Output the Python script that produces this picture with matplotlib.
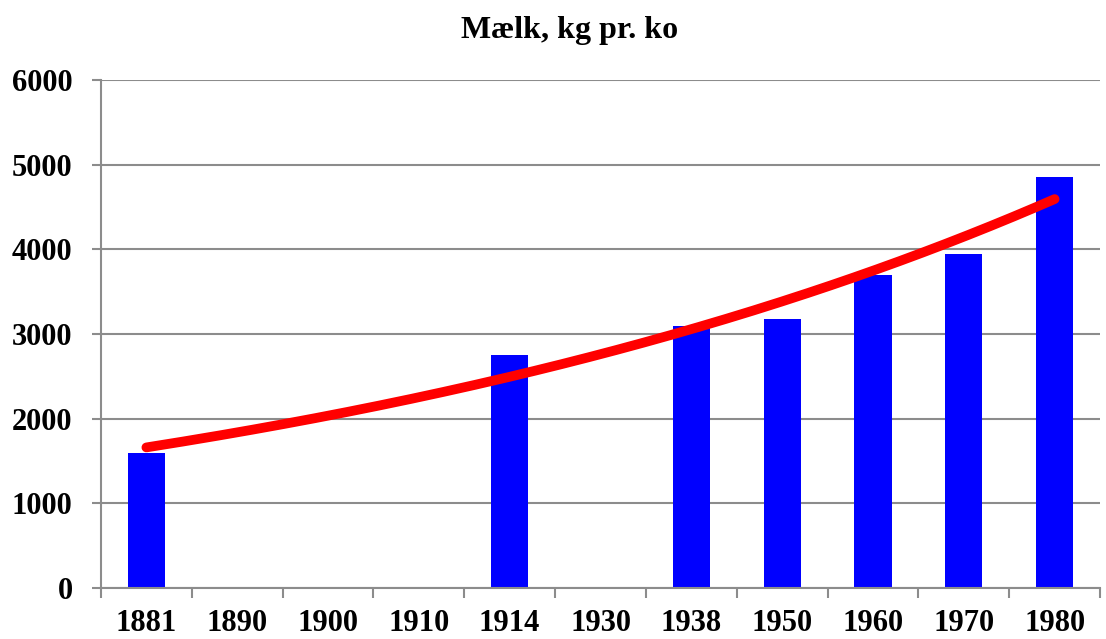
import numpy as np
import matplotlib.pyplot as plt

# Mælk, kg pr. ko -- bars only where data exists, blank categories stay empty
years = ['1881', '1890', '1900', '1910', '1914', '1930', '1938', '1950', '1960', '1970', '1980']
milk = [1600, None, None, None, 2750, None, 3100, 3175, 3700, 3940, 4850]

plt.rcParams['font.family'] = ['Liberation Serif', 'DejaVu Serif']

fig = plt.figure(figsize=(11.06, 6.39), dpi=100)
ax = fig.add_axes([0.0913, 0.0798, 0.9033, 0.795])

x = np.arange(len(years))
vals = np.array([np.nan if v is None else v for v in milk], dtype=float)
ax.bar(x, np.nan_to_num(vals), width=0.41, color='#0000ff', zorder=2)

# exponential trend line fitted on the points that exist (like Excel's trendline)
ok = ~np.isnan(vals)
b, a = np.polyfit(x[ok], np.log(vals[ok]), 1)
xs = np.linspace(0, len(years) - 1, 200)
ax.plot(xs, np.exp(a + b * xs), color='#ff0000', lw=7, solid_capstyle='round', zorder=3)

ax.set_xlim(-0.5, len(years) - 0.5)
ax.set_ylim(0, 6000)
ax.set_yticks(range(0, 6001, 1000))
ax.yaxis.grid(True, color='#8c8c8c', lw=1.5)
ax.set_axisbelow(True)

ax.set_xticks(x)
ax.set_xticklabels(years)
ax.set_xticks(np.arange(-0.5, len(years)), minor=True)
ax.tick_params(axis='x', which='major', length=0, pad=15)
ax.tick_params(axis='x', which='minor', length=7, width=1.5, color='#8c8c8c', direction='out')
ax.tick_params(axis='y', length=6.5, width=1.5, color='#8c8c8c', pad=14)

for lab in ax.get_xticklabels() + ax.get_yticklabels():
    lab.set_fontsize(22)
    lab.set_fontweight('bold')

for s in ['top', 'right']:
    ax.spines[s].set_visible(False)
for s in ['left', 'bottom']:
    ax.spines[s].set_color('#8c8c8c')
    ax.spines[s].set_linewidth(1.5)

fig.text(0.515, 0.952, 'Mælk, kg pr. ko', ha='center', va='center', fontsize=23, fontweight='bold')

fig.savefig('out.png')
